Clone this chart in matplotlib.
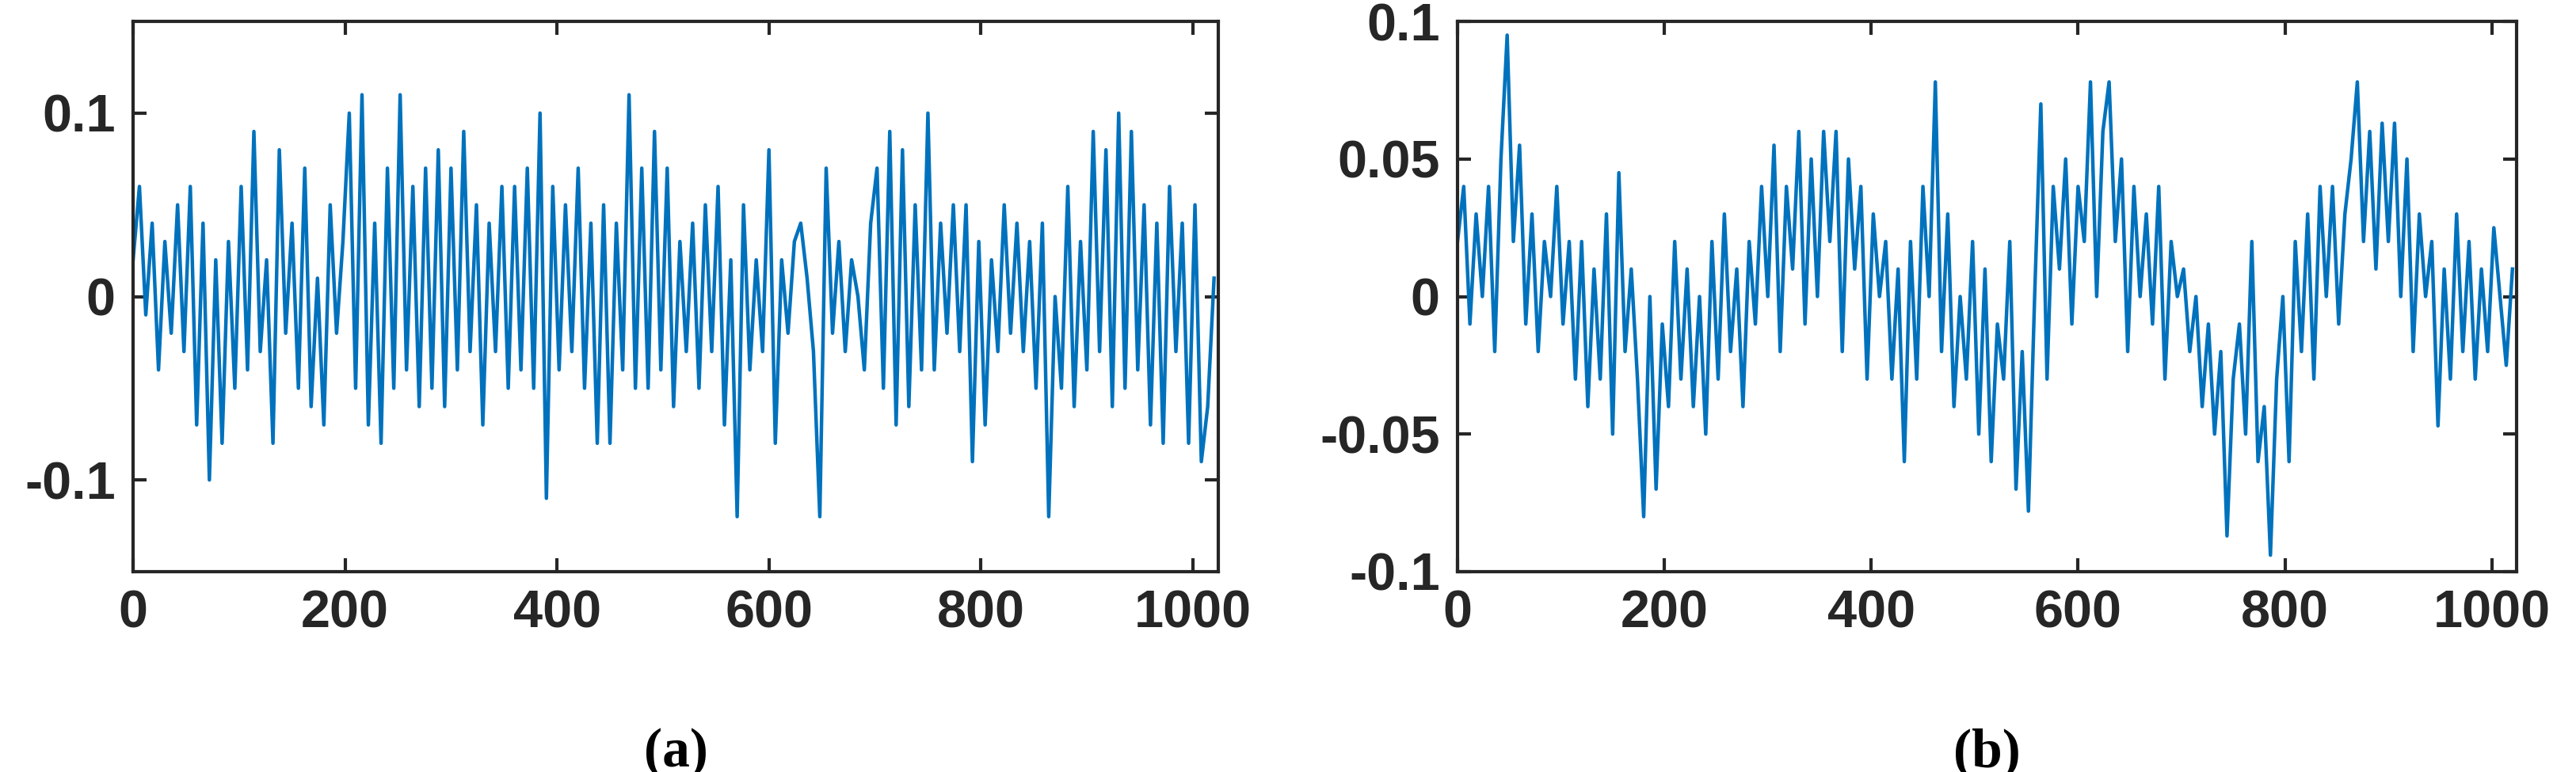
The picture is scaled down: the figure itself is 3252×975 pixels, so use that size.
import numpy as np
import matplotlib
matplotlib.use("Agg")
import matplotlib.pyplot as plt

STEP = 6

sig_a = [
    0.02, 0.06, -0.01, 0.04, -0.04, 0.03, -0.02, 0.05, -0.03, 0.06,
    -0.07, 0.04, -0.1, 0.02, -0.08, 0.03, -0.05, 0.06, -0.04, 0.09,
    -0.03, 0.02, -0.08, 0.08, -0.02, 0.04, -0.05, 0.07, -0.06, 0.01,
    -0.07, 0.05, -0.02, 0.03, 0.1, -0.05, 0.11, -0.07, 0.04, -0.08,
    0.07, -0.05, 0.11, -0.04, 0.06, -0.06, 0.07, -0.05, 0.08, -0.06,
    0.07, -0.04, 0.09, -0.03, 0.05, -0.07, 0.04, -0.03, 0.06, -0.05,
    0.06, -0.04, 0.07, -0.05, 0.1, -0.11, 0.06, -0.04, 0.05, -0.03,
    0.07, -0.05, 0.04, -0.08, 0.05, -0.08, 0.04, -0.04, 0.11, -0.05,
    0.07, -0.05, 0.09, -0.04, 0.07, -0.06, 0.03, -0.03, 0.04, -0.05,
    0.05, -0.03, 0.06, -0.07, 0.02, -0.12, 0.05, -0.04, 0.02, -0.03,
    0.08, -0.08, 0.02, -0.02, 0.03, 0.04, 0.01, -0.03, -0.12, 0.07,
    -0.02, 0.03, -0.03, 0.02, 0.0, -0.04, 0.04, 0.07, -0.05, 0.09,
    -0.07, 0.08, -0.06, 0.05, -0.04, 0.1, -0.04, 0.04, -0.02, 0.05,
    -0.03, 0.05, -0.09, 0.03, -0.07, 0.02, -0.03, 0.05, -0.02, 0.04,
    -0.03, 0.03, -0.05, 0.04, -0.12, 0.0, -0.05, 0.06, -0.06, 0.03,
    -0.04, 0.09, -0.03, 0.08, -0.06, 0.1, -0.05, 0.09, -0.04, 0.05,
    -0.07, 0.04, -0.08, 0.06, -0.03, 0.04, -0.08, 0.05, -0.09, -0.06,
    0.01,
]

sig_b = [
    0.02, 0.04, -0.01, 0.03, 0.0, 0.04, -0.02, 0.05, 0.095, 0.02,
    0.055, -0.01, 0.03, -0.02, 0.02, 0.0, 0.04, -0.01, 0.02, -0.03,
    0.02, -0.04, 0.01, -0.03, 0.03, -0.05, 0.045, -0.02, 0.01, -0.03,
    -0.08, 0.0, -0.07, -0.01, -0.04, 0.02, -0.03, 0.01, -0.04, 0.0,
    -0.05, 0.02, -0.03, 0.03, -0.02, 0.01, -0.04, 0.02, -0.01, 0.04,
    0.0, 0.055, -0.02, 0.04, 0.01, 0.06, -0.01, 0.05, 0.0, 0.06,
    0.02, 0.06, -0.02, 0.05, 0.01, 0.04, -0.03, 0.03, 0.0, 0.02,
    -0.03, 0.01, -0.06, 0.02, -0.03, 0.04, 0.0, 0.078, -0.02, 0.03,
    -0.04, 0.0, -0.03, 0.02, -0.05, 0.01, -0.06, -0.01, -0.03, 0.02,
    -0.07, -0.02, -0.078, 0.0, 0.07, -0.03, 0.04, 0.01, 0.05, -0.01,
    0.04, 0.02, 0.078, 0.0, 0.06, 0.078, 0.02, 0.05, -0.02, 0.04,
    0.0, 0.03, -0.01, 0.04, -0.03, 0.02, 0.0, 0.01, -0.02, 0.0,
    -0.04, -0.01, -0.05, -0.02, -0.087, -0.03, -0.01, -0.05, 0.02, -0.06,
    -0.04, -0.094, -0.03, 0.0, -0.06, 0.02, -0.02, 0.03, -0.03, 0.04,
    0.0, 0.04, -0.01, 0.03, 0.05, 0.078, 0.02, 0.06, 0.01, 0.063,
    0.02, 0.063, 0.0, 0.05, -0.02, 0.03, 0.0, 0.02, -0.047, 0.01,
    -0.03, 0.03, -0.02, 0.02, -0.03, 0.01, -0.02, 0.025, 0.0, -0.025,
    0.01,
]

xticks = [0, 200, 400, 600, 800, 1000]
yticks_a = [-0.1, 0, 0.1]
yticks_b = [-0.1, -0.05, 0, 0.05, 0.1]
ylabels_b = ["-0.1", "-0.05", "0", "0.05", "0.1"]
captions = ["(a)", "(b)"]

plt.rcParams["font.family"] = ["Liberation Sans", "DejaVu Sans"]
plt.rcParams["font.weight"] = "bold"

fig = plt.figure(figsize=(32.52, 9.75), dpi=100)
axes = [fig.add_axes([168 / 3252, 1 - 722 / 975, 1370 / 3252, 695 / 975]),
        fig.add_axes([1840 / 3252, 1 - 722 / 975, 1337 / 3252, 695 / 975])]

for ax, sig, yl, yt, ylab, cap in zip(
        axes, [sig_a, sig_b], [(-0.15, 0.15), (-0.1, 0.1)],
        [yticks_a, yticks_b], [["-0.1", "0", "0.1"], ylabels_b], captions):
    x = np.arange(len(sig)) * STEP
    ax.plot(x, sig, color="#0072BD", linewidth=3.2)
    ax.set_xlim(0, 1024)
    ax.set_ylim(*yl)
    ax.set_xticks(xticks)
    ax.set_xticklabels([str(t) for t in xticks])
    ax.set_yticks(yt)
    ax.set_yticklabels(ylab)
    ax.tick_params(direction="in", length=12, width=3, labelsize=48,
                   colors="#262626", top=True, right=True, pad=16)
    for s in ax.spines.values():
        s.set_linewidth(3)
        s.set_color("#262626")
    ax.text(0.5, -0.33, cap, transform=ax.transAxes, ha="center", va="center",
            fontsize=50, family="Liberation Serif", weight="bold")

fig.savefig("out.png", dpi=100)
